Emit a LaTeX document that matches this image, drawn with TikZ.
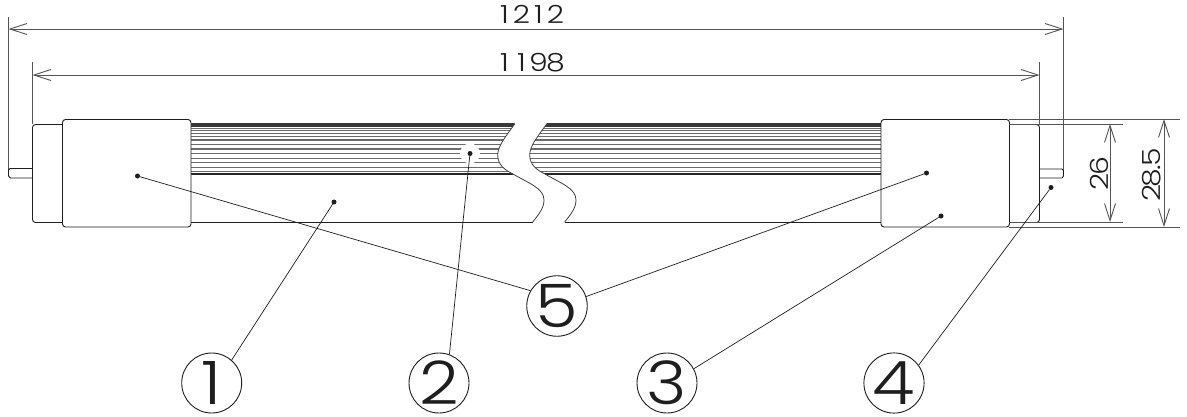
\documentclass[tikz,border=0pt]{standalone}
\usepackage{fontspec}
\setmainfont{Poppins}[UprightFont=* Light]
\usetikzlibrary{arrows.meta}
\definecolor{ink}{HTML}{1E1E1E}
\definecolor{dimc}{HTML}{555555}
\newcommand{\wdg}[2][17pt]{\makebox[#1]{\scalebox{1.2}[1]{#2}}}
\tikzset{
  x=1pt,y=-1pt,
  part/.style={draw=ink,line width=0.9pt,fill=white,rounded corners=3pt},
  pin/.style={draw=ink,line width=0.9pt,fill=white},
  edge/.style={draw=ink,line width=0.9pt},
  ext/.style={draw=dimc,line width=0.9pt},
  dimline/.style={draw=dimc,line width=0.9pt,{Straight Barb[length=17pt,width=11pt]}-{Straight Barb[length=17pt,width=11pt]}},
  stripe/.style={draw=black!58,line width=1.2pt},
  darkband/.style={draw=black!78,line width=3.2pt},
  darkbandb/.style={draw=black!85,line width=2.2pt},
  breakline/.style={draw=black!75,line width=0.8pt},
  leader/.style={draw=ink,line width=0.7pt},
  dotm/.style={circle,fill=ink,inner sep=0pt,minimum size=5pt},
  callout/.style={circle,draw=ink,line width=0.9pt,minimum size=60pt,inner sep=0pt,font=\fontsize{60}{60}\selectfont,text=ink},
  dimtext/.style={inner sep=0pt,font=\fontsize{25}{25}\selectfont,text=ink},
}
\def\leftbreak{(514.7,124) .. controls (506,136) and (497.7,146) .. (497.7,155) .. controls (497.7,165) and (505,170) .. (513,174) .. controls (528,183) and (544,188) .. (544,200) .. controls (544,208) and (539,214) .. (532.7,222)}
\def\rightbreak{(546.7,124) .. controls (538,136) and (529.7,146) .. (529.7,155) .. controls (529.7,165) and (537,170) .. (545,174) .. controls (560,183) and (576,188) .. (576,200) .. controls (576,208) and (571,214) .. (564.7,222)}
\def\stripes{%
  \foreach \yy in {128.3,130.7,133.3,136.7,140,144.3,149,153.7,158.3,162.3,167.7,171.7}{
    \draw[stripe] (185,\yy) -- (890,\yy);
  }
  \draw[darkband] (185,125) -- (890,125);
  \draw[darkbandb] (185,173.6) -- (890,173.6);
}
\begin{document}
\begin{tikzpicture}
\useasboundingbox (0,0) rectangle (1187,416);
\fill[white] (0,0) rectangle (1187,416);

% reference points of the dimensions
\coordinate (a1) at (8.5,29);
\coordinate (b1) at (1063.5,29);
\coordinate (a2) at (32.5,75);
\coordinate (b2) at (1039.5,75);
\coordinate (t26) at (1110,124);
\coordinate (u26) at (1110,222);
\coordinate (t28) at (1164,119);
\coordinate (u28) at (1164,227);

% stripes of the tube, left and right of the break
\begin{scope}
  \clip (191,120) -- (514.7,120) -- (514.7,124) .. controls (506,136) and (497.7,146) .. (497.7,155) .. controls (497.7,165) and (505,170) .. (513,174) -- (513,178) -- (191,178) -- cycle;
  \stripes
\end{scope}
\begin{scope}
  \clip (881,120) -- (546.7,120) -- (546.7,124) .. controls (538,136) and (529.7,146) .. (529.7,155) .. controls (529.7,165) and (537,170) .. (545,174) -- (545,178) -- (881,178) -- cycle;
  \stripes
\end{scope}
\draw[breakline] \leftbreak;
\draw[breakline] \rightbreak;
\draw[edge] (191,222.5) -- (532.7,222.5);
\draw[edge] (564.7,222.5) -- (881,222.5);

% white spot behind the dot of callout 2
\fill[white] (470,153.5) circle (10);

% extension lines
\draw[ext] (8.5,17) -- (8.5,170);
\draw[ext] (32.5,62) -- (32.5,124);
\draw[ext] (1063.5,17) -- (1063.5,170);
\draw[ext] (1039.5,62) -- (1039.5,124);

% left end
\draw[pin] (32.5,168.5) -- (10,168.5) -- (8.5,170) -- (8.5,176) -- (10.5,178) -- (32.5,178);
\draw[part,fill=white] (62,124.5) -- (32.5,124.5) -- (32.5,222.5) -- (62,222.5);
\draw[part] (62.5,119.5) rectangle (191,227);
% right end
\draw[pin] (1039.5,169) -- (1062,169) -- (1063.5,170.5) -- (1063.5,176) -- (1062,178) -- (1039.5,178);
\draw[part] (1009,124.5) -- (1039.5,124.5) -- (1039.5,222.5) -- (1009,222.5);
\draw[part] (881,119.5) rectangle (1009.5,227);
\draw[ext] (1009,119.5) -- (1180,119.5);
\draw[ext] (1009,124.5) -- (1123,124.5);
\draw[ext] (1009,227) -- (1180,227);
\draw[ext] (1009,222.5) -- (1123,222.5);

% dimensions
\draw[dimline] (a1) -- (b1);
\draw[dimline] (a2) -- (b2);
\draw[dimline] (t26) -- (u26);
\draw[dimline] (t28) -- (u28);
\node[dimtext] (d1212) at (530,14) {\wdg{1}\wdg{2}\wdg{1}\wdg{2}};
\node[dimtext] (d1198) at (530,63) {\wdg{1}\wdg{1}\wdg{9}\wdg{8}};
\node[dimtext,rotate=90] (d26) at (1099,174) {\wdg[15pt]{2}\wdg[15pt]{6}};
\node[dimtext,rotate=90] (d285) at (1152,175) {\wdg[15pt]{2}\wdg[15pt]{8}\wdg[6pt]{.}\wdg[15pt]{5}};

% leader dots
\node[dotm] (p1) at (334,202) {};
\node[dotm] (p2) at (470,153.5) {};
\node[dotm] (p5a) at (137.5,176) {};
\node[dotm] (p5b) at (926.5,173) {};
\node[dotm] (p3) at (941,216) {};
\node[dotm] (p4) at (1051,187.5) {};

% callouts
\node[callout] (c1) at (211.7,383) {\scalebox{1.15}[1]{1}};
\node[callout] (c2) at (439,383) {\scalebox{1.15}[1]{2}};
\node[callout] (c3) at (667,383) {\scalebox{1.15}[1]{3}};
\node[callout] (c4) at (894,383) {\scalebox{1.15}[1]{4}};
\node[callout] (c5) at (557,306) {\scalebox{1.15}[1]{5}};

\draw[leader] (p1) -- (c1.49);
\draw[leader] (p2) -- (c2.70);
\draw[leader] (p3) -- (c3.28);
\draw[leader] (p4) -- (c4.36);
\draw[leader] (p5a) -- (c5.150);
\draw[leader] (p5b) -- (c5.18);
\end{tikzpicture}
\end{document}
